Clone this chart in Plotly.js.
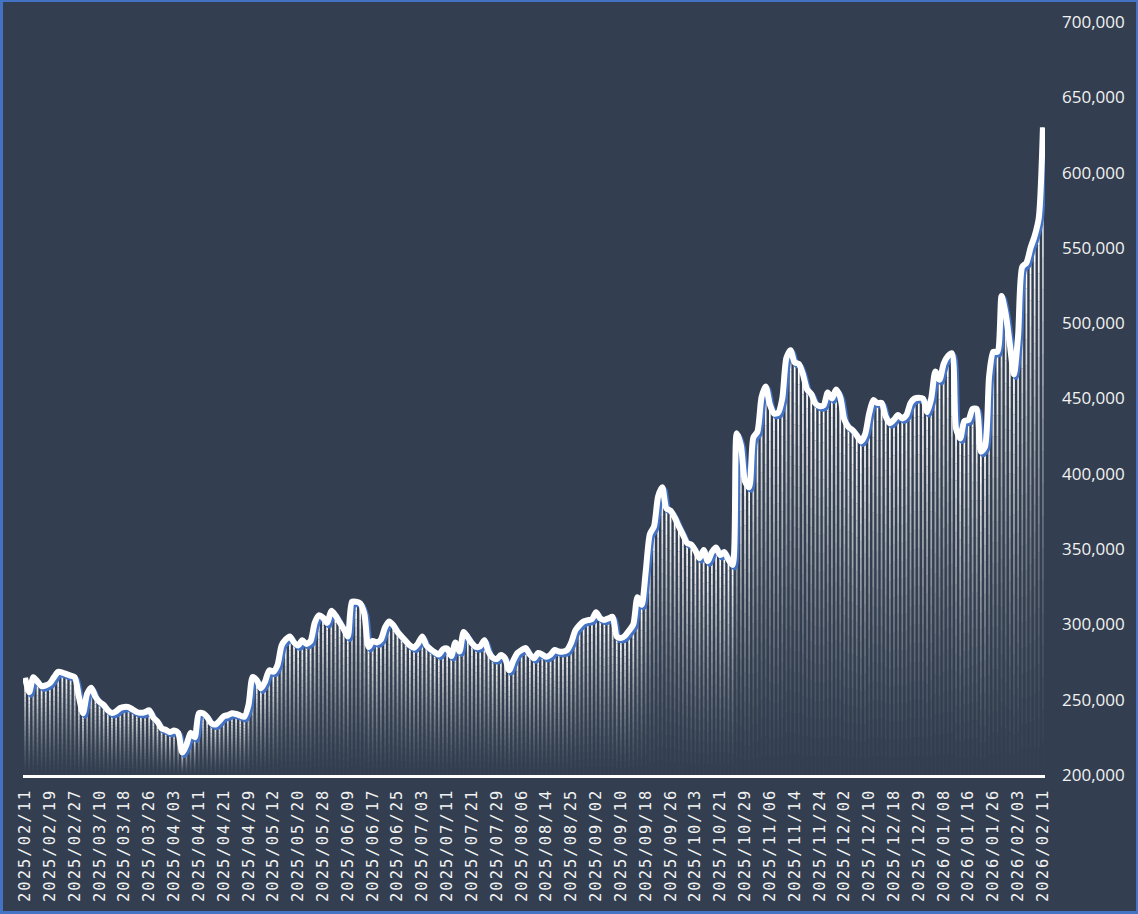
<!DOCTYPE html>
<html>
<head>
<meta charset="utf-8">
<script src="https://cdn.plot.ly/plotly-3.0.1.min.js"></script>
<style>
  body { margin: 0; background: #333F50; }
  #wrap { position: relative; width: 1138px; height: 914px; }
  #frame { position: absolute; left: 0; top: 0; right: 0; bottom: 0;
           border: 2px solid #4472C4; border-left-width: 3px; border-bottom-width: 3px;
           pointer-events: none; }
  .xtick text { letter-spacing: 2px; }
</style>
</head>
<body>
<div id="wrap">
  <div id="chart"></div>
  <div id="frame"></div>
</div>
<script>
// one label every 6 points, as on the original category axis
const TICK_STEP = 6;
const tickLabels = [
  "2025/02/11", "2025/02/19", "2025/02/27", "2025/03/10", "2025/03/18", "2025/03/26",
  "2025/04/03", "2025/04/11", "2025/04/21", "2025/04/29", "2025/05/12", "2025/05/20",
  "2025/05/28", "2025/06/09", "2025/06/17", "2025/06/25", "2025/07/03", "2025/07/11",
  "2025/07/21", "2025/07/29", "2025/08/06", "2025/08/14", "2025/08/25", "2025/09/02",
  "2025/09/10", "2025/09/18", "2025/09/26", "2025/10/13", "2025/10/21", "2025/10/29",
  "2025/11/06", "2025/11/14", "2025/11/24", "2025/12/02", "2025/12/10", "2025/12/18",
  "2025/12/29", "2026/01/08", "2026/01/16", "2026/01/26", "2026/02/03", "2026/02/11"
];

const prices = [
  264500, 255000, 265000, 262000, 259000, 259500, 261000, 265000, 268500, 268000,
  267000, 266000, 265000, 252000, 241000, 254000, 258000, 252000, 248500, 246500,
  243000, 241200, 242300, 244500, 245200, 245100, 243500, 241800, 241300, 241800,
  243000, 238000, 235500, 231000, 230000, 228500, 229500, 228000, 215000, 220000,
  228000, 225000, 241000, 241000, 238500, 234500, 233500, 236000, 239000, 239800,
  241000, 240500, 239500, 238700, 246500, 265000, 263000, 257500, 262000, 269500,
  268600, 273000, 286000, 290000, 292000, 288000, 286000, 289500, 287000, 289000,
  301000, 306000, 304500, 301000, 309000, 306000, 301500, 297000, 292000, 315000,
  315000, 314000, 307000, 285000, 289000, 288000, 290000, 298000, 302000, 299500,
  295000, 292000, 289000, 286000, 284500, 287500, 292000, 286000, 283500, 281500,
  280000, 283500, 284000, 279000, 288000, 282000, 295000, 291500, 287500, 285000,
  285500, 289500, 282000, 278000, 277000, 279700, 277500, 269500, 276000, 281000,
  283000, 284300, 280000, 277500, 281000, 280000, 278500, 280000, 283000, 282000,
  281900, 283000, 288000, 296000, 299500, 302000, 302800, 303500, 308000, 304000,
  303000, 304000, 305000, 292000, 291000, 292500, 296000, 300000, 318000, 313000,
  335000, 360000, 365000, 385000, 391000, 377000, 375500, 371000, 365000, 359500,
  354000, 353000, 349000, 344000, 349400, 342000, 348000, 351000, 346000, 348000,
  343000, 339500, 427000, 419000, 395000, 391000, 424000, 428000, 451000, 458000,
  446000, 440000, 440500, 450000, 477000, 482000, 474000, 473000, 466000, 456000,
  453000, 446800, 445000, 445500, 454000, 450000, 456000, 451000, 436000, 431000,
  429000, 425500, 421500, 426000, 440000, 449000, 447000, 447000, 438000, 433500,
  436000, 439000, 436800, 439000, 447000, 450000, 450500, 450000, 441000, 450000,
  468000, 462500, 473000, 478000, 480000, 430000, 423500, 435000, 435700, 443000,
  443000, 414700, 418000, 465000, 481000, 481000, 518000, 506000, 486000, 466000,
  492000, 537500, 540000, 550000, 558000, 570000, 630000
];

const Y_MIN = 200000;
const Y_MAX = 700000;
const Y_STEP = 50000;

const W = 1138, H = 914;
const margin = { l: 23, r: 93, t: 22, b: 139 };

const idx = prices.map((_, i) => i);
const xRange = [-0.5, prices.length - 0.5];

// bars fade from white at the top to nothing at the base: stack thin slices
const SLICES = 20;
let traces = [];
for (let k = 0; k < SLICES; k++) {
  const a = Math.pow((k + 1) / SLICES, 1.5);
  traces.push({
    type: 'bar',
    x: idx,
    base: prices.map(v => Y_MIN + (v - Y_MIN) * k / SLICES),
    y: prices.map(v => (v - Y_MIN) / SLICES),
    width: 0.42,
    marker: { color: 'rgba(255,255,255,' + a.toFixed(3) + ')', line: { width: 0 } },
    hoverinfo: 'skip'
  });
}

// blue shadow: same line on a second pair of axes nudged a couple of pixels,
// white line on a third pair (same range as the main axes) so it sits on top
const plotW = W - margin.l - margin.r;
const plotH = H - margin.t - margin.b;
const dx = 2 * (xRange[1] - xRange[0]) / plotW;
const dy = 2.5 * (Y_MAX - Y_MIN) / plotH;

traces.push({
  type: 'scatter', mode: 'lines',
  x: idx, y: prices,
  xaxis: 'x2', yaxis: 'y2',
  line: { color: '#4472C4', width: 6, shape: 'spline', smoothing: 0.7 },
  hoverinfo: 'skip'
});
traces.push({
  type: 'scatter', mode: 'lines',
  x: idx, y: prices,
  xaxis: 'x3', yaxis: 'y3',
  line: { color: '#FFFFFF', width: 6, shape: 'spline', smoothing: 0.7 },
  hoverinfo: 'skip'
});

let yTicks = [];
for (let v = Y_MIN; v <= Y_MAX; v += Y_STEP) yTicks.push(v);

Plotly.newPlot('chart', traces, {
  width: W, height: H,
  paper_bgcolor: '#333F50',
  plot_bgcolor: '#333F50',
  margin: margin,
  showlegend: false,
  barmode: 'overlay',
  xaxis: {
    range: xRange,
    tickvals: tickLabels.map((_, i) => i * TICK_STEP),
    ticktext: tickLabels,
    tickangle: -90,
    ticks: '',
    ticklabelstandoff: 5,
    showgrid: false, zeroline: false,
    showline: true, linecolor: '#FFFFFF', linewidth: 2.5,
    tickfont: { family: 'DejaVu Sans Mono', size: 15.5, color: '#F2F2F2' }
  },
  yaxis: {
    range: [Y_MIN, Y_MAX],
    side: 'right',
    tickvals: yTicks,
    tickformat: ',d',
    ticks: '',
    ticklabelstandoff: 16,
    showgrid: false, zeroline: false, showline: false,
    tickfont: { family: 'Open Sans', size: 17, color: '#F2F2F2' }
  },
  xaxis2: { overlaying: 'x', range: [xRange[0] - dx, xRange[1] - dx], visible: false },
  yaxis2: { overlaying: 'y', range: [Y_MIN + dy, Y_MAX + dy], visible: false },
  xaxis3: { overlaying: 'x', range: xRange, visible: false },
  yaxis3: { overlaying: 'y', range: [Y_MIN, Y_MAX], visible: false }
}, { staticPlot: true });
</script>
</body>
</html>
